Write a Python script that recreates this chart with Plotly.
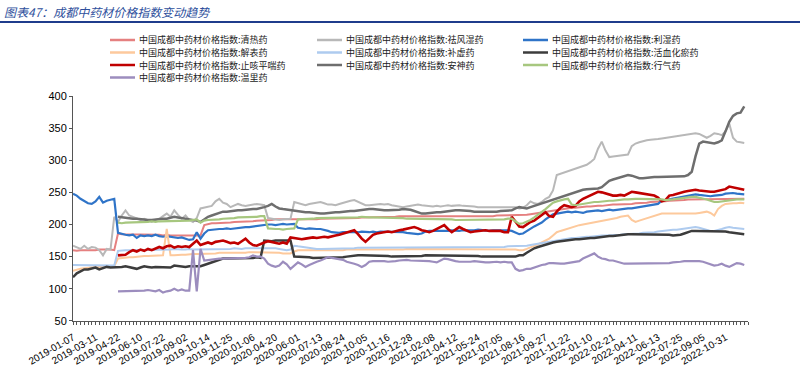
import plotly.graph_objects as go

tick_labels = ["2019-01-07", "2019-03-11", "2019-04-22", "2019-06-10", "2019-07-22", "2019-09-02",
               "2019-10-14", "2019-11-25", "2020-01-06", "2020-04-20", "2020-06-01", "2020-07-13",
               "2020-08-24", "2020-10-05", "2020-11-16", "2020-12-28", "2021-02-08", "2021-04-12",
               "2021-05-24", "2021-07-05", "2021-08-16", "2021-09-27", "2021-11-22", "2022-01-10",
               "2022-02-21", "2022-04-11", "2022-06-13", "2022-07-25", "2022-09-05", "2022-10-31"]

names = ["中国成都中药材价格指数:清热药", "中国成都中药材价格指数:祛风湿药", "中国成都中药材价格指数:利湿药",
         "中国成都中药材价格指数:解表药", "中国成都中药材价格指数:补虚药", "中国成都中药材价格指数:活血化瘀药",
         "中国成都中药材价格指数:止咳平喘药", "中国成都中药材价格指数:安神药", "中国成都中药材价格指数:行气药",
         "中国成都中药材价格指数:温里药"]
colors = ["#E58080", "#B8B8B8", "#2F74C8", "#FDC99C", "#AECBEF", "#3C3C3C", "#C00000", "#6E6E6E", "#A7C77F", "#9C8DBE"]
widths = [2, 2, 2.2, 2, 2, 2.5, 2.6, 2.5, 2.2, 2.2]

qingre = [160, 159, 160, 160, 160, 159, 160, 161, 161, 162,
          161, 160, 186, 185, 185, 185, 184, 185, 184, 184,
          184, 184, 184, 184, 183, 184, 183, 183, 183, 183,
          183, 183, 182, 182, 183, 199, 201, 202, 202, 202,
          203, 203, 203, 204, 204, 204, 205, 205, 205, 206,
          206, 206, 207, 207, 208, 208, 208, 208, 208, 208,
          207, 207, 207, 208, 208, 208, 209, 209, 209, 209,
          209, 209, 210, 210, 210, 210, 210, 211, 211, 211,
          211, 211, 212, 212, 212, 212, 212, 213, 213, 213,
          213, 213, 213, 213, 213, 213, 213, 213, 213, 212,
          212, 212, 212, 212, 212, 212, 212, 213, 213, 213,
          213, 213, 213, 214, 214, 214, 214, 214, 214, 214,
          215, 215, 216, 217, 218, 219, 220, 221, 222, 223,
          224, 224, 225, 226, 226, 227, 227, 228, 228, 229,
          229, 229, 230, 230, 231, 231, 231, 232, 232, 232,
          233, 233, 234, 234, 235, 235, 236, 236, 236, 237,
          237, 238, 238, 238, 239, 239, 239, 239, 240, 240,
          240, 240, 240, 240, 240, 240, 240, 240, 240, 240]

qufengshi = [167, 165, 162, 167, 162, 165, 164, 160, 152, 162,
             161, 212, 204, 214, 222, 214, 212, 209, 207, 209,
             206, 204, 207, 209, 213, 217, 212, 222, 215, 209,
             214, 207, 204, 210, 225, 226, 227, 229, 236, 240,
             234, 232, 227, 229, 232, 230, 229, 230, 231, 232,
             231, 230, 210, 209, 208, 207, 208, 208, 209, 235,
             233, 231, 230, 232, 233, 234, 235, 233, 231, 231,
             230, 232, 234, 236, 237, 238, 235, 232, 230, 230,
             231, 232, 232, 231, 232, 230, 229, 228, 227, 228,
             229, 230, 231, 230, 229, 229, 228, 229, 228, 229,
             230, 229, 230, 230, 229, 229, 228, 228, 227, 227,
             227, 228, 227, 228, 228, 227, 228, 228, 227, 225,
             226, 230, 236, 233, 232, 235, 240, 243, 253, 277,
             279, 281, 283, 285, 287, 290, 292, 293, 297, 302,
             318, 329, 315, 305, 306, 307, 308, 308, 309, 322,
             326, 328, 330, 331, 332, 332, 333, 334, 335, 336,
             337, 338, 339, 340, 341, 342, 342, 341, 338, 335,
             338, 342, 341, 339, 345, 357, 335, 329, 328, 327]

lishi = [248, 245, 240, 236, 233, 232, 236, 243, 234, 237,
         239, 240, 187, 185, 184, 183, 184, 179, 183, 182,
         183, 182, 184, 182, 181, 182, 181, 180, 179, 180,
         178, 176, 177, 188, 178, 186, 191, 192, 192, 193,
         193, 194, 193, 194, 195, 195, 196, 196, 197, 197,
         198, 199, 200, 200, 199, 200, 201, 200, 200, 201,
         195, 194, 193, 194, 193, 193, 193, 192, 190, 188,
         187, 187, 188, 188, 187, 188, 188, 189, 188, 188,
         189, 188, 189, 189, 188, 188, 189, 189, 188, 187,
         186, 185, 185, 186, 189, 190, 190, 189, 189, 190,
         190, 191, 190, 190, 191, 191, 190, 191, 192, 191,
         191, 190, 191, 191, 192, 191, 191, 190, 187, 185,
         186, 190, 194, 197, 200, 203, 208, 212, 216, 217,
         218, 219, 220, 219, 220, 219, 218, 220, 221, 221,
         222, 221, 222, 223, 222, 223, 224, 224, 225, 225,
         226, 227, 228, 228, 229, 230, 232, 237, 238, 239,
         240, 241, 243, 244, 245, 246, 247, 246, 245, 245,
         244, 245, 245, 246, 248, 249, 249, 248, 248, 247]

jiebiao = [128, 130, 131, 132, 133, 133, 134, 134, 135, 135,
           135, 135, 147, 148, 148, 149, 149, 150, 150, 151,
           151, 151, 152, 152, 152, 193, 152, 152, 153, 153,
           153, 154, 154, 154, 154, 154, 155, 155, 155, 156,
           156, 156, 155, 155, 155, 156, 156, 157, 157, 156,
           156, 157, 157, 157, 156, 156, 155, 155, 155, 158,
           160, 160, 160, 160, 160, 159, 160, 160, 160, 160,
           160, 160, 160, 161, 161, 161, 160, 160, 160, 160,
           160, 161, 161, 161, 161, 161, 161, 161, 161, 162,
           162, 162, 162, 162, 162, 162, 162, 162, 162, 162,
           162, 162, 162, 162, 162, 162, 162, 162, 162, 162,
           162, 162, 162, 162, 162, 162, 162, 162, 161, 160,
           160, 162, 164, 166, 169, 172, 175, 178, 183, 188,
           190, 192, 193, 195, 197, 199, 200, 201, 202, 203,
           204, 205, 206, 207, 208, 210, 212, 213, 214, 207,
           204, 206, 208, 210, 212, 214, 216, 217, 217, 217,
           217, 217, 216, 216, 217, 217, 217, 218, 219, 220,
           218, 214, 224, 229, 232, 233, 233, 233, 234, 233]

buxu = [137, 137, 136, 137, 136, 136, 137, 136, 136, 136,
        137, 136, 159, 160, 160, 160, 160, 161, 160, 160,
        161, 161, 160, 161, 161, 161, 161, 162, 161, 161,
        161, 162, 161, 161, 162, 161, 162, 162, 162, 162,
        162, 162, 162, 163, 162, 162, 163, 163, 163, 163,
        163, 164, 164, 164, 163, 162, 161, 160, 161, 167,
        166, 165, 164, 163, 163, 162, 162, 162, 162, 162,
        162, 162, 163, 163, 163, 163, 164, 164, 164, 164,
        164, 164, 164, 164, 164, 165, 165, 165, 165, 165,
        165, 165, 165, 165, 165, 165, 165, 165, 165, 165,
        165, 165, 165, 165, 165, 165, 165, 165, 165, 165,
        165, 165, 165, 165, 165, 165, 166, 166, 166, 166,
        166, 167, 168, 169, 170, 171, 172, 173, 175, 176,
        177, 178, 178, 179, 179, 180, 180, 181, 181, 182,
        182, 183, 183, 183, 184, 184, 184, 185, 185, 185,
        186, 186, 187, 187, 188, 188, 189, 190, 190, 191,
        192, 192, 193, 194, 195, 196, 196, 195, 193, 191,
        190, 190, 191, 193, 195, 196, 195, 194, 193, 193]

huoxue = [118, 124, 127, 130, 130, 131, 133, 130, 132, 134,
          133, 133, 134, 134, 135, 134, 132, 131, 133, 135,
          134, 133, 134, 134, 133, 133, 133, 136, 135, 134,
          134, 135, 135, 135, 135, 137, 139, 142, 144, 146,
          147, 147, 147, 147, 147, 147, 148, 148, 148, 149,
          148, 175, 174, 174, 175, 175, 175, 175, 175, 150,
          150, 149, 149, 149, 148, 148, 148, 148, 148, 148,
          148, 148, 149, 150, 151, 151, 152, 152, 152, 152,
          152, 152, 151, 151, 151, 150, 150, 150, 150, 150,
          151, 151, 151, 151, 152, 152, 152, 152, 152, 152,
          152, 151, 151, 151, 151, 151, 151, 151, 151, 150,
          150, 150, 150, 150, 149, 149, 149, 149, 150, 152,
          152, 156, 160, 163, 165, 167, 169, 171, 172, 173,
          174, 175, 176, 176, 177, 177, 178, 178, 179, 179,
          180, 180, 181, 182, 182, 183, 184, 184, 185, 185,
          185, 185, 185, 185, 185, 185, 185, 185, 185, 184,
          183, 183, 184, 186, 188, 190, 190, 190, 190, 190,
          190, 190, 190, 190, 189, 188, 187, 186, 186, 185]

zhike = [None] * 12 + [
         152, 152, 153, 157, 160, 158, 161, 159,
         162, 160, 163, 165, 163, 166, 167, 164, 166, 165,
         166, 165, 170, 175, 168, 170, 172, 170, 173, 174,
         175, 173, 171, 172, 170, 174, 178, 172, 168, 167,
         170, 172, 174, 173, 171, 170, 172, 170, 180, 179,
         178, 177, 178, 179, 180, 179, 180, 181, 180, 182,
         183, 184, 186, 188, 190, 191, 185, 178, 173, 178,
         184, 186, 187, 189, 189, 188, 190, 191, 192, 193,
         195, 196, 194, 191, 190, 188, 190, 193, 196, 199,
         193, 188, 192, 196, 193, 190, 188, 189, 190, 190,
         191, 190, 190, 189, 190, 188, 188, 212, 204, 197,
         196, 200, 204, 206, 210, 215, 219, 213, 212, 220,
         226, 230, 229, 227, 229, 236, 240, 243, 246, 249,
         251, 250, 248, 246, 245, 245, 246, 245, 248, 251,
         250, 249, 248, 247, 246, 245, 242, 236, 238, 245,
         246, 248, 250, 251, 252, 253, 254, 253, 252, 251,
         251, 251, 252, 253, 255, 259, 258, 256, 255, 254]

anshen = [None] * 12 + [
          212, 211, 210, 210, 209, 209, 208, 208,
          207, 207, 208, 209, 209, 209, 210, 212, 211, 210,
          209, 209, 208, 206, 204, 208, 212, 214, 216, 218,
          220, 220, 221, 222, 222, 222, 223, 223, 224, 224,
          225, 227, 229, 232, 228, 225, 224, 223, 222, 222,
          221, 220, 219, 219, 218, 218, 217, 217, 218, 218,
          219, 219, 220, 220, 221, 221, 222, 223, 223, 224,
          224, 223, 223, 222, 222, 222, 223, 223, 224, 224,
          223, 221, 219, 217, 217, 218, 218, 219, 219, 220,
          221, 221, 222, 222, 222, 221, 221, 220, 220, 219,
          219, 219, 219, 220, 221, 221, 222, 222, 225, 227,
          226, 225, 227, 229, 231, 233, 235, 237, 238, 240,
          242, 244, 246, 248, 250, 253, 254, 255, 255, 256,
          256, 258, 263, 268, 270, 272, 274, 276, 277, 276,
          274, 272, 272, 273, 273, 274, 274, 274, 274, 274,
          275, 275, 275, 275, 277, 282, 306, 326, 329, 328,
          327, 326, 328, 331, 345, 360, 369, 373, 374, 384]

xingqi = [None] * 12 + [
          203, 202, 203, 203, 204, 203, 204, 204,
          204, 205, 204, 205, 205, 205, 206, 205, 206, 206,
          206, 206, 207, 208, 203, 206, 207, 207, 208, 208,
          209, 209, 210, 210, 211, 211, 211, 212, 212, 212,
          213, 213, 194, 193, 193, 193, 192, 193, 193, 194,
          208, 208, 209, 209, 209, 210, 210, 210, 210, 211,
          211, 211, 211, 211, 210, 211, 211, 212, 211, 211,
          211, 211, 211, 211, 211, 210, 210, 210, 210, 209,
          209, 209, 209, 209, 209, 209, 209, 208, 208, 208,
          208, 208, 207, 207, 207, 207, 207, 207, 207, 207,
          207, 207, 207, 207, 208, 208, 209, 209, 205, 201,
          202, 204, 207, 211, 215, 219, 224, 229, 234, 236,
          238, 239, 240, 231, 230, 231, 233, 234, 235, 235,
          235, 236, 236, 237, 237, 238, 238, 239, 239, 240,
          240, 240, 240, 240, 240, 240, 240, 239, 238, 238,
          239, 240, 241, 241, 242, 243, 243, 242, 241, 239,
          237, 235, 235, 236, 237, 238, 238, 239, 239, 239]

wenli = [None] * 12 + [
         96, 96, 96, 96, 96, 97, 97, 97,
         98, 97, 96, 98, 94, 96, 97, 100, 97, 99,
         97, 97, 160, 96, 162, 144, 145, 146, 147, 147,
         147, 147, 148, 148, 148, 148, 148, 149, 152, 150,
         150, 147, 139, 136, 134, 136, 142, 138, 131, 136,
         141, 138, 134, 137, 140, 142, 144, 146, 149, 148,
         147, 147, 145, 142, 141, 139, 137, 134, 137, 142,
         143, 143, 144, 143, 142, 142, 143, 144, 145, 145,
         144, 144, 144, 144, 144, 143, 142, 141, 144, 147,
         146, 144, 143, 142, 142, 141, 142, 143, 142, 142,
         141, 141, 142, 142, 141, 142, 141, 141, 131, 128,
         129, 131, 131, 133, 136, 137, 138, 140, 140, 139,
         139, 139, 140, 141, 142, 143, 147, 150, 153, 155,
         150, 147, 146, 144, 144, 142, 140, 139, 139, 139,
         139, 139, 139, 139, 139, 139, 139, 139, 140, 140,
         141, 141, 142, 143, 143, 144, 144, 143, 142, 140,
         138, 136, 137, 139, 136, 134, 137, 140, 139, 137]

series = [qingre, qufengshi, lishi, jiebiao, buxu, huoxue, zhike, anshen, xingqi, wenli]

fig = go.Figure()
for name, vals, c, w in zip(names, series, colors, widths):
    fig.add_trace(go.Scatter(x=list(range(len(vals))), y=vals, mode="lines", name=name,
                             line=dict(color=c, width=w), showlegend=False, hoverinfo="skip"))

# geometry in pixels (used for legend/title placement)
W, H = 800, 366
L, R, T, B = 73, 52, 96, 45
pw, ph = W - L - R, H - T - B

def px(x):
    return (x - L) / pw

def py(y):
    return (H - B - y) / ph

shapes = []
annotations = []
col_x = [110, 317, 523]
row_y = [40, 52.5, 65, 77.5]
for k, (name, c) in enumerate(zip(names, colors)):
    cx = col_x[k % 3]
    ry = row_y[k // 3]
    shapes.append(dict(type="line", xref="paper", yref="paper", x0=px(cx), x1=px(cx + 25),
                       y0=py(ry), y1=py(ry), line=dict(color=c, width=2.5)))
    annotations.append(dict(xref="paper", yref="paper", x=px(cx + 27), y=py(ry), text=name,
                            showarrow=False, xanchor="left", yanchor="middle",
                            font=dict(family="Noto Sans CJK SC", size=9, color="#222222")))

# title and underline
annotations.append(dict(xref="paper", yref="paper", x=px(2), y=py(11.5),
                        text="<i>图表47：成都中药材价格指数变动趋势</i>", showarrow=False,
                        xanchor="left", yanchor="middle",
                        font=dict(family="Noto Sans CJK SC", size=12, color="#2E4F9C")))
shapes.append(dict(type="line", xref="paper", yref="paper", x0=px(0), x1=px(W),
                   y0=py(22), y1=py(22), line=dict(color="#1F3C8C", width=2)))

fig.update_layout(
    width=W, height=H,
    margin=dict(l=L, r=R, t=T, b=B, autoexpand=False),
    plot_bgcolor="white", paper_bgcolor="white",
    showlegend=False,
    shapes=shapes, annotations=annotations,
)
fig.update_xaxes(
    range=[0, 180], tickmode="array", tickvals=list(range(0, 180, 6)), ticktext=tick_labels,
    tickangle=-30, ticks="outside", ticklen=3, tickcolor="#555", showline=True,
    linecolor="#555", linewidth=1, showgrid=False, zeroline=False, automargin=False,
    ticklabelstandoff=3,
    tickfont=dict(family="Liberation Sans, Arial", size=10, color="#000"),
    minor=dict(tickmode="array", tickvals=list(range(0, 181)), ticks="outside", ticklen=3,
               tickcolor="#555", showgrid=False),
)
fig.update_yaxes(
    range=[49.8, 400], tickmode="linear", tick0=50, dtick=50, ticks="outside", ticklen=3,
    tickcolor="#555", showline=True, linecolor="#555", linewidth=1, showgrid=False,
    zeroline=False, automargin=False,
    tickfont=dict(family="Liberation Sans, Arial", size=11, color="#000"),
)

fig.write_html("out.html", config={"displayModeBar": False},
               post_script="document.body.style.margin='0';document.body.style.overflow='hidden';")
